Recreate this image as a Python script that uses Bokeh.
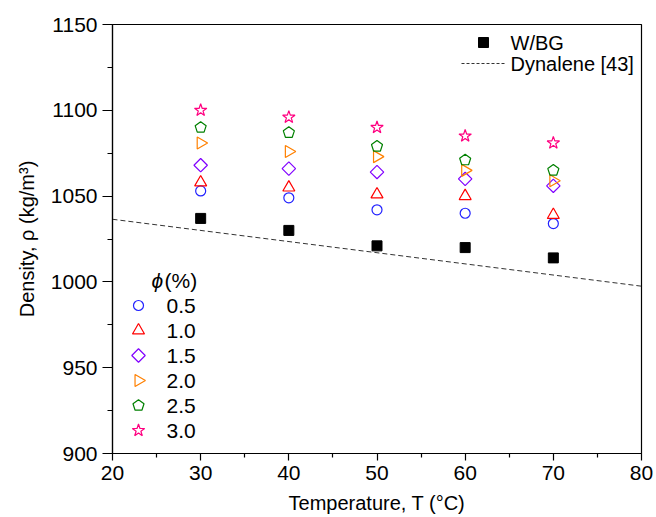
import numpy as np
from bokeh.plotting import figure
from bokeh.models import Range1d, FixedTicker
from bokeh.core.properties import value
from bokeh.embed import file_html
from bokeh.resources import INLINE

# ---------------- data ----------------
temperature = [30, 40, 50, 60, 70]
rho_wbg = [1037, 1030, 1021, 1020, 1014]
rho_05 = [1053, 1049, 1042, 1040, 1034]
rho_10 = [1058, 1055, 1051, 1050, 1039]
rho_15 = [1068, 1066, 1064, 1060, 1056]
rho_20 = [1081, 1076, 1073, 1065, 1059]
rho_25 = [1090, 1087, 1079, 1071, 1065]
rho_30 = [1100, 1096, 1090, 1085, 1081]
phi_labels = ["0.5", "1.0", "1.5", "2.0", "2.5", "3.0"]
dyn_T = [20, 80]
dyn_rho = [1036.5, 997.5]
x_ticks = [20, 30, 40, 50, 60, 70, 80]
x_minor = [25, 35, 45, 55, 65, 75]
y_ticks = [900, 950, 1000, 1050, 1100, 1150]
y_minor = [925, 975, 1025, 1075, 1125]

FONT = "Liberation Sans"

# frame geometry (pixels)
FL, FR, FT, FB = 112, 641, 24, 453
W, H = 656, 517
X0, X1, Y0, Y1 = 20, 80, 900, 1150

p = figure(width=W, height=H, x_range=Range1d(X0, X1), y_range=Range1d(Y0, Y1),
           output_backend="svg", toolbar_location=None,
           min_border_left=FL, min_border_right=W - FR, min_border_top=FT,
           min_border_bottom=H - FB)
p.grid.visible = False
p.background_fill_color = "white"
p.border_fill_color = "white"
p.outline_line_color = "black"
p.outline_line_width = 1.2
p.outline_line_alpha = 1

for ax in (p.xaxis[0], p.yaxis[0]):
    ax.axis_line_color = "black"
    ax.axis_line_width = 1.2
    ax.major_tick_line_color = "black"
    ax.minor_tick_line_color = "black"
    ax.major_tick_line_width = 1.2
    ax.minor_tick_line_width = 1.2
    ax.major_label_text_font = FONT
    ax.major_label_text_font_size = "21px"
    ax.major_label_text_color = "black"
    ax.axis_label_text_font = FONT
    ax.axis_label_text_font_size = "20px"
    ax.axis_label_text_font_style = "normal"
    ax.axis_label_text_color = "black"
    ax.major_tick_in = 0
    ax.minor_tick_in = 0
    ax.major_label_standoff = 5

p.xaxis.ticker = FixedTicker(ticks=x_ticks, minor_ticks=x_minor)
p.yaxis.ticker = FixedTicker(ticks=y_ticks, minor_ticks=y_minor)
p.xaxis.major_tick_out = 7
p.xaxis.minor_tick_out = 4
p.yaxis.major_tick_out = 10
p.yaxis.minor_tick_out = 5
p.xaxis.axis_label = "Temperature, T (\u00b0C)"
p.yaxis.axis_label = "Density, \u03c1 (kg/m\u00b3)"
p.xaxis.axis_label_standoff = 9
p.yaxis.axis_label_standoff = 10

# pixel <-> data helpers (for legend layout and pentagon outline)
ppx = (FR - FL) / (X1 - X0)
ppy = (FB - FT) / (Y1 - Y0)
def px_T(px):
    return X0 + (px - FL) / ppx
def py_rho(py):
    return Y1 - (py - FT) / ppy

def pentagon_xy(xs, ys, R=5.8):
    pxs, pys = [], []
    ang = np.deg2rad(90 + 72 * np.arange(5))
    for t, r in zip(xs, ys):
        pxs.append(list(t + R * np.cos(ang) / ppx))
        pys.append(list(r + R * np.sin(ang) / ppy))
    return pxs, pys

blue, red, violet, orange, green, pink = "#2222FF", "#FF0000", "#8000FF", "#FF8000", "#008000", "#FF0080"
LW = 1.2

def draw_set(xs, ys, kind):
    if kind == "circle":
        p.scatter(xs, ys, marker="circle", size=10, fill_color=None, line_color=blue, line_width=LW)
    elif kind == "tri":
        p.scatter(xs, ys, marker="triangle", size=12, fill_color=None, line_color=red, line_width=LW)
    elif kind == "diamond":
        p.scatter(xs, ys, marker="square", size=9.5, angle=np.pi / 4, fill_color=None,
                  line_color=violet, line_width=LW)
    elif kind == "tri_right":
        p.scatter(xs, ys, marker="triangle", size=12, angle=-np.pi / 2, fill_color=None,
                  line_color=orange, line_width=LW)
    elif kind == "pentagon":
        pxs, pys = pentagon_xy(xs, ys)
        p.patches(pxs, pys, fill_color=None, line_color=green, line_width=LW)
    elif kind == "star":
        p.scatter(xs, ys, marker="star", size=13, fill_color=None, line_color=pink, line_width=LW)

# ---------------- glyphs ----------------
p.line(dyn_T, dyn_rho, line_color="#333333", line_width=1, line_dash="5 3")
p.scatter(temperature, rho_wbg, marker="square", size=10, fill_color="black", line_color="black")

kinds = ["circle", "tri", "diamond", "tri_right", "pentagon", "star"]
series = [rho_05, rho_10, rho_15, rho_20, rho_25, rho_30]
for kind, ys in zip(kinds, series):
    draw_set(temperature, ys, kind)

# ---------------- phi legend (manual) ----------------
leg_mx = px_T(138)
leg_tx = px_T(166)
for k, (kind, lab) in enumerate(zip(kinds, phi_labels)):
    yy = py_rho(305 + 25 * k)
    draw_set([leg_mx], [yy], kind)
    p.text(x=[leg_tx], y=[yy], text=[lab], text_font=value(FONT), text_font_size="21px",
           text_baseline="middle", text_align="left", text_color="black")

p.text(x=[px_T(151)], y=[py_rho(280)], text=["\u03d5"], text_font=value(FONT),
       text_font_style="italic", text_font_size="21px", text_baseline="middle",
       text_align="left", text_color="black")
p.text(x=[px_T(164)], y=[py_rho(280)], text=["(%)"], text_font=value(FONT),
       text_font_size="21px", text_baseline="middle", text_align="left", text_color="black")

# ---------------- top-right legend (manual) ----------------
p.scatter([px_T(483)], [py_rho(42)], marker="square", size=10, fill_color="black", line_color="black")
p.line([px_T(461), px_T(505)], [py_rho(63), py_rho(63)], line_color="#333333",
       line_width=1, line_dash="3 2")
p.text(x=[px_T(510), px_T(510)], y=[py_rho(42), py_rho(63)], text=["W/BG", "Dynalene [43]"],
       text_font=value(FONT), text_font_size="20px", text_baseline="middle",
       text_align="left", text_color="black")

open("out.html", "w").write(file_html(p, INLINE))
